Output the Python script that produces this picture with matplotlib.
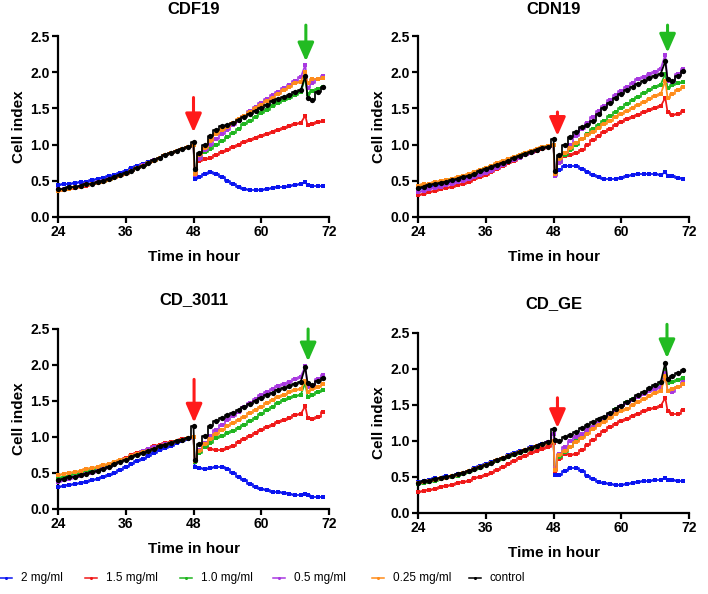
import numpy as np
import matplotlib
matplotlib.use('Agg')
import matplotlib.pyplot as plt
from matplotlib.lines import Line2D

plt.rcParams['font.family'] = ['Liberation Sans', 'DejaVu Sans']

# time points (hours)
hours = [24, 25, 26, 27, 28, 29, 30, 31, 32, 33, 34, 35, 36, 37, 38, 39, 40, 41, 42, 43, 44, 45, 46, 47, 48,
         48.2, 49, 50, 51, 52, 53, 54, 55, 56, 57, 58, 59, 60, 61, 62, 63, 64, 65, 66, 67,
         67.8, 68.2, 69, 70, 71]

labels = ['2 mg/ml', '1.5 mg/ml', '1.0 mg/ml', '0.5 mg/ml', '0.25 mg/ml', 'control']
colors = ['#0a14f0', '#f01818', '#1fb51f', '#a838e0', '#ff8c1a', '#000000']
markers = ['s', 's', 's', 's', 's', 'o']

# CDF19
cdf19_2mg = [0.44, 0.45, 0.46, 0.47, 0.48, 0.49, 0.51, 0.52, 0.54, 0.56, 0.58, 0.61, 0.64, 0.67, 0.70, 0.73, 0.76, 0.79, 0.82, 0.85, 0.88, 0.91, 0.94, 0.97, 1.00,
             0.52, 0.55, 0.60, 0.62, 0.60, 0.55, 0.50, 0.45, 0.42, 0.39, 0.37, 0.37, 0.37, 0.38, 0.40, 0.41, 0.42, 0.43, 0.44, 0.45, 0.48, 0.44, 0.43, 0.43, 0.43]
cdf19_15mg = [0.36, 0.37, 0.39, 0.40, 0.42, 0.43, 0.45, 0.47, 0.49, 0.51, 0.54, 0.57, 0.60, 0.63, 0.67, 0.71, 0.75, 0.78, 0.82, 0.85, 0.88, 0.91, 0.94, 0.97, 1.00,
              0.58, 0.78, 0.80, 0.82, 0.86, 0.90, 0.93, 0.97, 1.00, 1.03, 1.06, 1.09, 1.12, 1.14, 1.17, 1.20, 1.23, 1.26, 1.28, 1.30, 1.40, 1.27, 1.28, 1.31, 1.33]
cdf19_10mg = [0.37, 0.38, 0.40, 0.41, 0.43, 0.44, 0.46, 0.47, 0.49, 0.51, 0.54, 0.57, 0.60, 0.63, 0.67, 0.71, 0.75, 0.78, 0.82, 0.85, 0.88, 0.91, 0.94, 0.97, 1.00,
              0.62, 0.80, 0.90, 0.94, 0.99, 1.05, 1.10, 1.16, 1.22, 1.28, 1.33, 1.38, 1.43, 1.48, 1.53, 1.57, 1.61, 1.65, 1.69, 1.72, 1.93, 1.70, 1.74, 1.77, 1.80]
cdf19_05mg = [0.38, 0.39, 0.40, 0.42, 0.43, 0.45, 0.46, 0.48, 0.50, 0.52, 0.54, 0.57, 0.60, 0.64, 0.68, 0.72, 0.75, 0.79, 0.82, 0.85, 0.88, 0.91, 0.94, 0.97, 1.00,
              0.58, 0.80, 0.92, 1.00, 1.08, 1.15, 1.20, 1.27, 1.33, 1.40, 1.46, 1.52, 1.57, 1.63, 1.68, 1.73, 1.78, 1.83, 1.88, 1.93, 2.10, 1.78, 1.85, 1.90, 1.95]
cdf19_025mg = [0.36, 0.37, 0.39, 0.41, 0.42, 0.44, 0.45, 0.47, 0.49, 0.51, 0.54, 0.57, 0.60, 0.63, 0.67, 0.71, 0.75, 0.78, 0.82, 0.85, 0.88, 0.91, 0.94, 0.97, 1.00,
               0.60, 0.85, 0.95, 1.05, 1.15, 1.20, 1.24, 1.30, 1.35, 1.40, 1.45, 1.50, 1.55, 1.60, 1.65, 1.70, 1.75, 1.80, 1.85, 1.87, 2.00, 1.85, 1.90, 1.90, 1.92]
cdf19_ctrl = [0.38, 0.39, 0.41, 0.42, 0.43, 0.45, 0.46, 0.48, 0.50, 0.52, 0.55, 0.58, 0.61, 0.64, 0.68, 0.71, 0.75, 0.79, 0.82, 0.85, 0.88, 0.91, 0.94, 0.97, 1.03,
              0.66, 0.88, 1.00, 1.12, 1.20, 1.25, 1.27, 1.30, 1.34, 1.38, 1.42, 1.46, 1.50, 1.55, 1.60, 1.63, 1.66, 1.69, 1.72, 1.75, 1.95, 1.65, 1.62, 1.72, 1.80]

# CDN19
cdn19_2mg = [0.38, 0.40, 0.42, 0.43, 0.45, 0.47, 0.49, 0.51, 0.53, 0.55, 0.58, 0.61, 0.64, 0.67, 0.70, 0.74, 0.77, 0.80, 0.83, 0.86, 0.89, 0.92, 0.95, 0.97, 1.00,
             0.62, 0.65, 0.70, 0.71, 0.70, 0.66, 0.62, 0.58, 0.55, 0.53, 0.52, 0.52, 0.54, 0.56, 0.58, 0.59, 0.60, 0.60, 0.59, 0.58, 0.62, 0.57, 0.56, 0.54, 0.53]
cdn19_15mg = [0.30, 0.32, 0.34, 0.36, 0.38, 0.40, 0.42, 0.44, 0.46, 0.49, 0.52, 0.55, 0.58, 0.62, 0.66, 0.70, 0.74, 0.78, 0.81, 0.85, 0.88, 0.91, 0.94, 0.97, 1.00,
              0.60, 0.78, 0.84, 0.86, 0.88, 0.92, 1.00, 1.06, 1.12, 1.17, 1.22, 1.27, 1.31, 1.35, 1.38, 1.41, 1.45, 1.48, 1.50, 1.53, 1.65, 1.45, 1.41, 1.42, 1.47]
cdn19_10mg = [0.42, 0.44, 0.45, 0.47, 0.49, 0.50, 0.52, 0.54, 0.56, 0.58, 0.61, 0.64, 0.67, 0.70, 0.73, 0.76, 0.79, 0.82, 0.85, 0.88, 0.90, 0.93, 0.95, 0.98, 1.00,
              0.58, 0.75, 0.85, 0.93, 1.00, 1.08, 1.15, 1.21, 1.27, 1.33, 1.39, 1.45, 1.50, 1.56, 1.61, 1.66, 1.71, 1.76, 1.79, 1.83, 1.98, 1.78, 1.82, 1.85, 1.87]
cdn19_05mg = [0.34, 0.36, 0.38, 0.40, 0.42, 0.44, 0.46, 0.48, 0.50, 0.52, 0.55, 0.58, 0.61, 0.64, 0.68, 0.72, 0.76, 0.79, 0.82, 0.86, 0.89, 0.92, 0.95, 0.97, 1.00,
              0.57, 0.75, 0.88, 1.00, 1.12, 1.22, 1.30, 1.38, 1.46, 1.54, 1.62, 1.68, 1.74, 1.80, 1.85, 1.90, 1.93, 1.97, 2.00, 2.05, 2.24, 1.88, 1.87, 1.97, 2.05]
cdn19_025mg = [0.43, 0.45, 0.46, 0.48, 0.50, 0.51, 0.53, 0.55, 0.57, 0.59, 0.62, 0.65, 0.68, 0.71, 0.74, 0.77, 0.80, 0.83, 0.86, 0.89, 0.91, 0.94, 0.96, 0.98, 1.00,
               0.60, 0.80, 0.88, 0.95, 1.02, 1.08, 1.13, 1.18, 1.23, 1.28, 1.33, 1.38, 1.42, 1.46, 1.50, 1.55, 1.59, 1.63, 1.67, 1.70, 1.88, 1.65, 1.70, 1.75, 1.79]
cdn19_ctrl = [0.40, 0.42, 0.44, 0.46, 0.47, 0.49, 0.51, 0.53, 0.55, 0.57, 0.60, 0.63, 0.66, 0.69, 0.72, 0.75, 0.78, 0.81, 0.84, 0.87, 0.90, 0.92, 0.95, 0.97, 1.08,
              0.64, 0.85, 1.00, 1.10, 1.18, 1.24, 1.27, 1.33, 1.42, 1.50, 1.58, 1.65, 1.70, 1.75, 1.80, 1.84, 1.88, 1.92, 1.95, 1.98, 2.15, 1.90, 1.88, 1.95, 2.02]

# CD_3011
cd3011_2mg = [0.30, 0.32, 0.33, 0.35, 0.36, 0.38, 0.40, 0.42, 0.44, 0.47, 0.50, 0.54, 0.58, 0.62, 0.66, 0.70, 0.74, 0.78, 0.82, 0.85, 0.88, 0.91, 0.94, 0.97, 1.00,
              0.58, 0.57, 0.55, 0.57, 0.58, 0.58, 0.55, 0.50, 0.45, 0.40, 0.35, 0.31, 0.28, 0.26, 0.24, 0.23, 0.22, 0.21, 0.20, 0.20, 0.21, 0.19, 0.17, 0.16, 0.16]
cd3011_15mg = [0.39, 0.41, 0.43, 0.45, 0.47, 0.49, 0.51, 0.54, 0.57, 0.60, 0.63, 0.67, 0.71, 0.75, 0.78, 0.81, 0.84, 0.87, 0.89, 0.91, 0.93, 0.95, 0.97, 0.98, 1.00,
               0.65, 0.80, 0.86, 0.84, 0.82, 0.82, 0.85, 0.88, 0.93, 0.97, 1.02, 1.06, 1.10, 1.14, 1.17, 1.21, 1.24, 1.27, 1.30, 1.32, 1.43, 1.27, 1.25, 1.28, 1.35]
cd3011_10mg = [0.43, 0.45, 0.46, 0.48, 0.50, 0.52, 0.54, 0.56, 0.58, 0.60, 0.63, 0.66, 0.69, 0.72, 0.75, 0.78, 0.81, 0.84, 0.87, 0.89, 0.92, 0.94, 0.96, 0.98, 1.00,
               0.65, 0.78, 0.86, 0.92, 0.98, 1.02, 1.05, 1.08, 1.12, 1.17, 1.22, 1.27, 1.32, 1.37, 1.42, 1.47, 1.51, 1.54, 1.57, 1.59, 1.75, 1.56, 1.58, 1.62, 1.65]
cd3011_05mg = [0.38, 0.40, 0.42, 0.44, 0.46, 0.48, 0.50, 0.53, 0.56, 0.59, 0.62, 0.66, 0.70, 0.74, 0.77, 0.80, 0.83, 0.86, 0.88, 0.90, 0.92, 0.94, 0.96, 0.98, 1.00,
               0.68, 0.82, 0.92, 1.02, 1.10, 1.17, 1.23, 1.29, 1.35, 1.41, 1.47, 1.53, 1.58, 1.63, 1.67, 1.71, 1.74, 1.77, 1.80, 1.84, 1.98, 1.70, 1.70, 1.80, 1.86]
cd3011_025mg = [0.47, 0.49, 0.50, 0.52, 0.53, 0.55, 0.57, 0.59, 0.61, 0.63, 0.65, 0.68, 0.70, 0.73, 0.76, 0.79, 0.81, 0.84, 0.87, 0.89, 0.92, 0.94, 0.96, 0.98, 1.00,
                0.66, 0.80, 0.90, 0.97, 1.04, 1.10, 1.15, 1.19, 1.24, 1.28, 1.33, 1.38, 1.42, 1.47, 1.51, 1.55, 1.58, 1.62, 1.65, 1.67, 1.78, 1.63, 1.66, 1.70, 1.74]
cd3011_ctrl = [0.40, 0.42, 0.44, 0.45, 0.47, 0.49, 0.51, 0.53, 0.56, 0.59, 0.62, 0.65, 0.68, 0.72, 0.75, 0.78, 0.81, 0.84, 0.87, 0.89, 0.92, 0.94, 0.96, 0.98, 1.15,
               0.68, 0.90, 1.02, 1.15, 1.22, 1.27, 1.30, 1.34, 1.38, 1.42, 1.46, 1.50, 1.54, 1.58, 1.61, 1.65, 1.68, 1.71, 1.74, 1.77, 1.97, 1.75, 1.72, 1.78, 1.82]

# CD_GE
cdge_2mg = [0.43, 0.45, 0.46, 0.48, 0.49, 0.51, 0.52, 0.54, 0.56, 0.59, 0.62, 0.65, 0.68, 0.71, 0.74, 0.77, 0.80, 0.83, 0.86, 0.88, 0.91, 0.93, 0.96, 0.98, 1.00,
            0.53, 0.53, 0.58, 0.62, 0.62, 0.58, 0.52, 0.47, 0.43, 0.41, 0.40, 0.39, 0.39, 0.40, 0.42, 0.43, 0.44, 0.45, 0.46, 0.46, 0.49, 0.46, 0.46, 0.45, 0.45]
cdge_15mg = [0.29, 0.31, 0.32, 0.34, 0.36, 0.38, 0.39, 0.41, 0.43, 0.45, 0.48, 0.50, 0.53, 0.56, 0.60, 0.64, 0.68, 0.72, 0.76, 0.79, 0.83, 0.86, 0.89, 0.92, 0.97,
             0.58, 0.75, 0.82, 0.81, 0.82, 0.87, 0.94, 1.01, 1.08, 1.14, 1.20, 1.24, 1.28, 1.31, 1.35, 1.38, 1.41, 1.44, 1.46, 1.49, 1.60, 1.42, 1.38, 1.38, 1.43]
cdge_10mg = [0.40, 0.42, 0.43, 0.45, 0.47, 0.48, 0.50, 0.52, 0.54, 0.57, 0.60, 0.63, 0.66, 0.69, 0.72, 0.75, 0.78, 0.81, 0.84, 0.86, 0.89, 0.92, 0.95, 0.97, 1.00,
             0.62, 0.78, 0.85, 0.92, 1.00, 1.07, 1.14, 1.20, 1.26, 1.32, 1.38, 1.44, 1.49, 1.54, 1.59, 1.63, 1.67, 1.71, 1.75, 1.78, 1.98, 1.80, 1.82, 1.85, 1.87]
cdge_05mg = [0.41, 0.43, 0.44, 0.46, 0.48, 0.49, 0.51, 0.53, 0.55, 0.58, 0.61, 0.64, 0.67, 0.70, 0.73, 0.76, 0.79, 0.82, 0.85, 0.87, 0.90, 0.93, 0.95, 0.98, 1.10,
             0.62, 0.82, 0.92, 1.00, 1.05, 1.10, 1.15, 1.20, 1.26, 1.32, 1.38, 1.43, 1.48, 1.53, 1.57, 1.61, 1.65, 1.69, 1.72, 1.75, 1.95, 1.70, 1.68, 1.75, 1.82]
cdge_025mg = [0.41, 0.43, 0.44, 0.46, 0.48, 0.49, 0.51, 0.53, 0.55, 0.58, 0.61, 0.64, 0.67, 0.70, 0.73, 0.76, 0.79, 0.82, 0.85, 0.87, 0.90, 0.93, 0.95, 0.97, 1.00,
              0.60, 0.80, 0.86, 0.92, 0.98, 1.04, 1.10, 1.16, 1.22, 1.27, 1.32, 1.37, 1.41, 1.45, 1.50, 1.54, 1.58, 1.62, 1.66, 1.69, 1.90, 1.70, 1.72, 1.75, 1.79]
cdge_ctrl = [0.42, 0.44, 0.45, 0.47, 0.48, 0.50, 0.52, 0.54, 0.56, 0.58, 0.61, 0.64, 0.67, 0.70, 0.73, 0.76, 0.79, 0.82, 0.85, 0.87, 0.90, 0.93, 0.96, 0.98, 1.16,
             1.02, 1.00, 1.05, 1.08, 1.13, 1.18, 1.22, 1.26, 1.30, 1.34, 1.39, 1.44, 1.49, 1.54, 1.59, 1.64, 1.68, 1.73, 1.78, 1.82, 2.09, 1.86, 1.90, 1.95, 1.99]

titles = ['CDF19', 'CDN19', 'CD_3011', 'CD_GE']
# red arrow (x, top, tip) and green arrow (x, top, tip) per panel
red_arrows = [(48.0, 1.65, 1.17), (48.7, 1.45, 1.12), (48.1, 1.80, 1.20), (48.7, 1.60, 1.18)]
green_arrows = [(67.9, 2.65, 2.15), (68.2, 2.65, 2.27), (68.3, 2.50, 2.05), (68.1, 2.62, 2.15)]

panels = [
    [cdf19_2mg, cdf19_15mg, cdf19_10mg, cdf19_05mg, cdf19_025mg, cdf19_ctrl],
    [cdn19_2mg, cdn19_15mg, cdn19_10mg, cdn19_05mg, cdn19_025mg, cdn19_ctrl],
    [cd3011_2mg, cd3011_15mg, cd3011_10mg, cd3011_05mg, cd3011_025mg, cd3011_ctrl],
    [cdge_2mg, cdge_15mg, cdge_10mg, cdge_05mg, cdge_025mg, cdge_ctrl],
]

# stepped stretches and straight joins (index ranges into hours)
segments = [(0, 25, 'steps-mid'), (24, 26, 'default'), (25, 45, 'steps-mid'),
            (44, 47, 'default'), (46, 50, 'steps-mid')]

W, H = 708, 594
fig = plt.figure(figsize=(W / 100, H / 100), dpi=100)

# axes boxes in pixels: left, top, right, bottom ; title centre y in pixels
boxes = [(58, 36, 329, 217), (418, 36, 689, 217), (58, 329, 329, 509), (418, 333, 689, 513)]
title_y = [9, 9, 300, 304]

draw_order = [4, 3, 2, 1, 5, 0]

for k, (l, t, r, b) in enumerate(boxes):
    ax = fig.add_axes([l / W, 1 - b / H, (r - l) / W, (b - t) / H])
    for i in draw_order:
        y = panels[k][i]
        z = 3 + i * 0.1
        for a, e, ds in segments:
            ax.plot(hours[a:e], y[a:e], color=colors[i], lw=1.25, drawstyle=ds, zorder=z, clip_on=False)
        ax.plot(hours, y, ls='none', color=colors[i], marker=markers[i],
                ms=3.0 if markers[i] == 's' else 3.8, mew=0, zorder=z, clip_on=False)
    ax.set_xlim(24, 72)
    ax.set_ylim(0, 2.5)
    ax.set_xticks([24, 36, 48, 60, 72])
    ax.set_yticks([0, 0.5, 1.0, 1.5, 2.0, 2.5])
    ax.set_yticklabels(['0.0', '0.5', '1.0', '1.5', '2.0', '2.5'])
    for s in ['top', 'right']:
        ax.spines[s].set_visible(False)
    for s in ['left', 'bottom']:
        ax.spines[s].set_linewidth(1.6)
    ax.tick_params(width=1.6, length=4, labelsize=10, pad=2)
    for lab in ax.get_xticklabels() + ax.get_yticklabels():
        lab.set_fontweight('bold')
    ax.set_xlabel('Time in hour', fontsize=11, fontweight='bold', labelpad=8)
    ax.set_ylabel('Cell index', fontsize=11, fontweight='bold', labelpad=3)
    fig.text((l + r) / 2 / W, 1 - title_y[k] / H, titles[k], fontsize=12, fontweight='bold',
             ha='center', va='center')

    x, y0, y1 = red_arrows[k]
    ax.annotate('', xy=(x, y1), xytext=(x, y0), annotation_clip=False,
                arrowprops=dict(arrowstyle='-|>,head_width=0.35,head_length=0.8',
                                lw=2.2, color='#ff1a1a', mutation_scale=14, shrinkA=0, shrinkB=0))
    x, y0, y1 = green_arrows[k]
    ax.annotate('', xy=(x, y1), xytext=(x, y0), annotation_clip=False,
                arrowprops=dict(arrowstyle='-|>,head_width=0.35,head_length=0.8',
                                lw=2.2, color='#22bb22', mutation_scale=14, shrinkA=0, shrinkB=0))

# legend row drawn by hand: handle start x in pixels
leg_x = [0, 85, 180, 273, 372, 469]
leg_y = 1 - 578 / H
for i in range(6):
    x0 = leg_x[i] / W
    fig.add_artist(Line2D([x0, x0 + 12 / W], [leg_y, leg_y], color=colors[i], lw=1.1,
                          transform=fig.transFigure))
    fig.add_artist(Line2D([x0 + 6 / W], [leg_y], color=colors[i], marker='o', ms=2.2, mew=0,
                          transform=fig.transFigure))
    fig.text(x0 + 21 / W, leg_y, labels[i], fontsize=8.5, va='center', ha='left')

fig.savefig('out.png', dpi=100)
